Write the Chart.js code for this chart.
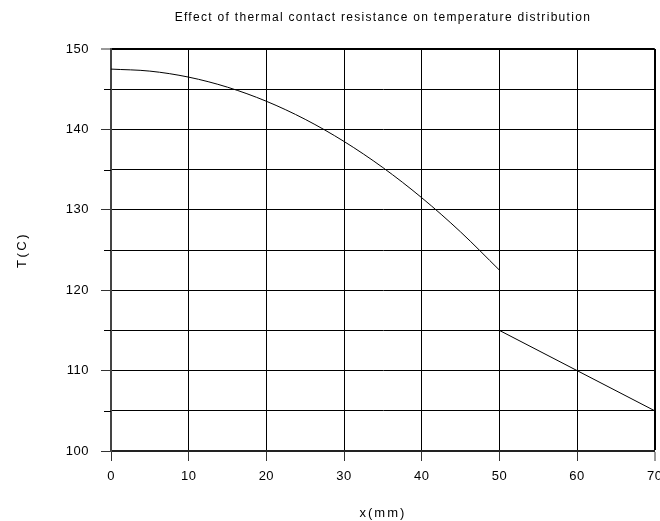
<!DOCTYPE html>
<html><head><meta charset="utf-8">
<script src="https://cdn.jsdelivr.net/npm/chart.js@4/dist/chart.umd.min.js"></script>
<style>
html,body{margin:0;padding:0;background:#fff;overflow:hidden}
#wrap{width:660px;height:521px;overflow:hidden;position:relative}
canvas{display:block}
</style></head><body>
<div id="wrap"><canvas id="c" width="670" height="521"></canvas></div>
<script>
// Data
const curveX = [0, 5, 10, 15, 20, 25, 30, 35, 40, 45, 50];
const curveT = [147.5, 147.25, 146.5, 145.25, 143.5, 141.25, 138.5, 135.25, 131.5, 127.25, 122.5];
const lineX = [50, 60, 70];
const lineT = [115, 110, 105];
const xTickValues = [0, 10, 20, 30, 40, 50, 60, 70];
const yMajorTicks = [100, 110, 120, 130, 140, 150];
const yMinorTicks = [105, 115, 125, 135, 145];
const titleText = 'Effect of thermal contact resistance on temperature distribution';
const xTitle = 'x(mm)';
const yTitle = 'T(C)';

Chart.defaults.font.family = "'Liberation Sans', Arial, sans-serif";
Chart.defaults.font.size = 12;
Chart.defaults.color = '#000';

function withSpacing(obj, method, spacing) {
  const orig = obj[method];
  obj[method] = function(...args) {
    const ctx = this.ctx;
    ctx.save();
    ctx.letterSpacing = spacing;
    orig.apply(this, args);
    ctx.restore();
  };
}

const spacingPlugin = {
  id: 'spacing',
  beforeDraw(chart) {
    if (chart._spaced) return;
    chart._spaced = true;
    withSpacing(chart.scales.x, 'drawTitle', '2px');
    withSpacing(chart.scales.y, 'drawTitle', '2.5px');
    withSpacing(chart.scales.x, 'drawLabels', '0.5px');
    withSpacing(chart.scales.y, 'drawLabels', '0.5px');
    withSpacing(chart.titleBlock, 'draw', '1.3px');
  }
};

const minorTickPlugin = {
  id: 'minorTicks',
  afterDraw(chart) {
    const ys = chart.scales.y;
    const ctx = chart.ctx;
    ctx.save();
    ctx.strokeStyle = '#000';
    ctx.lineWidth = 1;
    yMinorTicks.forEach(v => {
      const py = Math.round(ys.getPixelForValue(v)) + 0.5;
      ctx.beginPath();
      ctx.moveTo(ys.right - 7, py);
      ctx.lineTo(ys.right, py);
      ctx.stroke();
    });
    ctx.restore();
  }
};

new Chart(document.getElementById('c'), {
  type: 'line',
  data: {
    datasets: [
      {
        data: curveX.map((x, i) => ({x, y: curveT[i]})),
        borderColor: '#000', borderWidth: 1, pointRadius: 0,
        cubicInterpolationMode: 'monotone', fill: false
      },
      {
        data: lineX.map((x, i) => ({x, y: lineT[i]})),
        borderColor: '#000', borderWidth: 1, pointRadius: 0, fill: false
      }
    ]
  },
  options: {
    responsive: false,
    animation: false,
    events: [],
    layout: { padding: { left: 0, right: 15, top: 0, bottom: 0 } },
    plugins: {
      legend: { display: false },
      tooltip: { enabled: false },
      title: {
        display: true, text: titleText, fullSize: false,
        font: { size: 12, weight: 'normal' }, color: '#000',
        padding: { top: 10, bottom: 24.6 }
      }
    },
    scales: {
      x: {
        type: 'linear', min: 0, max: 70,
        afterBuildTicks: s => { s.ticks = xTickValues.map(v => ({value: v})); },
        afterFit: s => { s.height = 70; },
        ticks: { padding: 8, color: '#000', font: { size: 13 }, maxRotation: 0 },
        grid: {
          color: '#000',
          lineWidth: c => (c.tick && c.tick.value === 70) ? 2 : 1,
          tickLength: 10, tickColor: '#333', tickWidth: 1
        },
        border: { color: '#222', width: 2 },
        title: { display: true, text: xTitle, font: { size: 13 }, color: '#000', padding: { top: 0, bottom: 0 } }
      },
      y: {
        type: 'linear', min: 100, max: 150,
        afterBuildTicks: s => {
          s.ticks = yMajorTicks.concat(yMinorTicks).sort((a, b) => a - b).map(v => ({value: v}));
        },
        afterFit: s => { s.width = 111; },
        ticks: {
          padding: 12, color: '#000', font: { size: 13 },
          callback: v => yMajorTicks.includes(v) ? String(v) : ''
        },
        grid: {
          color: '#000',
          lineWidth: c => (c.tick && c.tick.value === 150) ? 2 : 1,
          tickLength: 10,
          tickColor: c => (c.tick && yMajorTicks.includes(c.tick.value)) ? '#333' : 'rgba(0,0,0,0)',
          tickWidth: 1
        },
        border: { color: '#444', width: 2 },
        title: { display: true, text: yTitle, font: { size: 13 }, color: '#000', padding: { top: 14.2, bottom: 0 } }
      }
    }
  },
  plugins: [spacingPlugin, minorTickPlugin]
});
</script>
</body></html>
